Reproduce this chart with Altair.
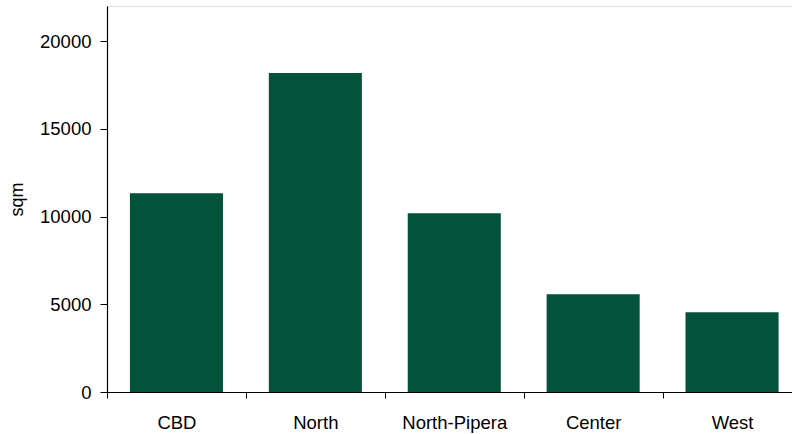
import altair as alt
import pandas as pd

categories = ["CBD", "North", "North-Pipera", "Center", "West"]
values = [11330, 18180, 10190, 5570, 4550]

df = pd.DataFrame({"zone": categories, "sqm": values})

FONT = "Liberation Sans"

chart = alt.Chart(df).mark_bar(
    color="#03523A",
    width=alt.RelativeBandSize(0.67),
).encode(
    x=alt.X(
        "zone:N",
        sort=categories,
        scale=alt.Scale(paddingInner=0, paddingOuter=0, range=[0, 694.5]),
        axis=alt.Axis(
            title=None,
            labelAngle=0,
            tickBand="extent",
            tickSize=6,
            labelPadding=15,
            labelFont=FONT,
            labelFontSize=18.5,
            labelColor="black",
            domainColor="black",
            tickColor="black",
            domainWidth=1.2,
        ),
    ),
    y=alt.Y(
        "sqm:Q",
        scale=alt.Scale(domain=[0, 22000], nice=False),
        axis=alt.Axis(
            title="sqm",
            values=[0, 5000, 10000, 15000, 20000],
            format="d",
            grid=False,
            tickSize=7,
            labelPadding=9,
            labelFont=FONT,
            labelFontSize=18.5,
            labelColor="black",
            titleFont=FONT,
            titleFontSize=18,
            titleFontWeight="normal",
            titleColor="black",
            titlePadding=13,
            domainColor="black",
            tickColor="black",
            domainWidth=1.2,
        ),
    ),
).properties(
    width=685,
    height=386,
    autosize=alt.AutoSizeParams(type="none"),
    padding={"left": 107, "top": 6, "right": 0, "bottom": 42},
).configure_view(stroke=None).configure(background="white")

chart.save("out.html", embed_options={"renderer": "svg", "actions": False})
